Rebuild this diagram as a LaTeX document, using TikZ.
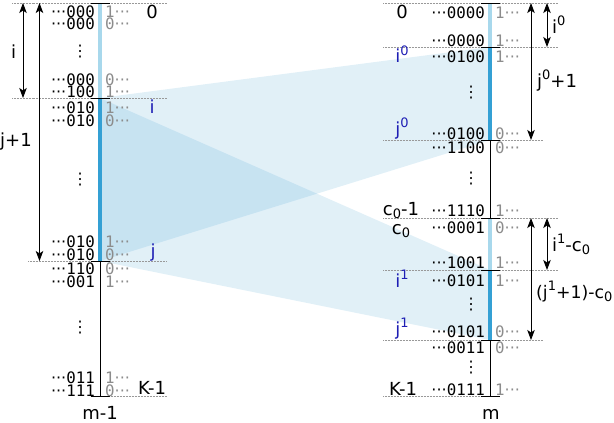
\documentclass[tikz,border=0pt]{standalone}
\usepackage{fontspec}
\setmainfont{DejaVu Sans}
\newfontfamily\monof{DejaVu Sans Mono}
\usetikzlibrary{arrows.meta}
\definecolor{barlight}{RGB}{168,216,236}
\definecolor{bardark}{RGB}{52,160,212}
\definecolor{shadeblue}{RGB}{51,153,204}
\definecolor{labblue}{RGB}{30,30,180}
\definecolor{dgray}{RGB}{140,140,140}
\newcommand\supx[1]{\raisebox{0.42em}{\fontsize{13}{13}\selectfont #1}}
\newcommand\subx[1]{\raisebox{-0.2em}{\fontsize{13}{13}\selectfont #1}}
\newcommand\dts{{\normalfont\fontsize{16}{16}\selectfont ···}}
\tikzset{
  bits/.style={anchor=base east, inner sep=0pt, font=\monof\fontsize{15.8}{15.8}\selectfont},
  gbit/.style={anchor=base west, inner sep=0pt, text=dgray, font=\monof\fontsize{15.8}{15.8}\selectfont},
  lab/.style={anchor=base, inner sep=0pt, font=\fontsize{18}{18}\selectfont},
  blab/.style={lab, text=labblue},
  vd/.style={inner sep=0pt, font=\fontsize{16}{16}\selectfont},
  shadefill/.style={fill=shadeblue, fill opacity=0.15},
  dotline/.style={draw=gray!80, line width=0.7pt, dash pattern=on 0.7pt off 0.8pt},
  lightbar/.style={draw=barlight, line width=4.5pt},
  darkbar/.style={draw=bardark, line width=4.5pt},
  blackbar/.style={draw=black, line width=0.9pt},
  tickline/.style={draw=black, line width=1pt},
  dimarrow/.style={draw=black, line width=0.9pt,
     {Stealth[length=10pt,width=7.5pt,inset=2.5pt]}-{Stealth[length=10pt,width=7.5pt,inset=2.5pt]}}
}
\newcommand\Lrow[5]{%
  \node[bits] (#1a) at (95,#2) {\dts#3};
  \node[gbit] (#1b) at (105,#2) {#4\dts};}
\newcommand\Rrow[5]{%
  \node[bits] (#1a) at (485,#2) {\dts#3};
  \node[gbit] (#1b) at (495,#2) {#4\dts};}
\begin{document}
\begin{tikzpicture}[x=1pt,y=-1pt]
\useasboundingbox (0,0) rectangle (614,423);
% shaded mappings
\fill[shadefill] (100,98) -- (490,47) -- (490,140) -- (100,261) -- cycle;
\fill[shadefill] (100,98) -- (490,270) -- (490,340) -- (100,261) -- cycle;
% dotted guide lines, left
\draw[dotline] (12,3) -- (167,3);
\draw[dotline] (12,98) -- (167,98);
\draw[dotline] (28,261) -- (167,261);
\draw[dotline] (100,396.5) -- (167,396.5);
% dotted guide lines, right
\draw[dotline] (383,3) -- (558,3);
\draw[dotline] (383,47) -- (558,47);
\draw[dotline] (383,140) -- (543,140);
\draw[dotline] (383,218) -- (558,218);
\draw[dotline] (383,270) -- (558,270);
\draw[dotline] (383,340) -- (543,340);
\draw[dotline] (383,396.5) -- (490,396.5);
% left column bars
\draw[lightbar] (100,3) -- (100,98);
\draw[darkbar] (100,98) -- (100,261);
\draw[blackbar] (100,261) -- (100,396.5);
\foreach \yy in {3,98,261,396.5} \draw[tickline] (90.5,\yy) -- (110,\yy);
% right column bars
\draw[lightbar] (490,3) -- (490,47);
\draw[darkbar] (490,47) -- (490,140);
\draw[blackbar] (490,140) -- (490,218);
\draw[lightbar] (490,218) -- (490,270);
\draw[darkbar] (490,270) -- (490,340);
\draw[blackbar] (490,340) -- (490,396.5);
\foreach \yy in {3,47,140,218,270,340,396.5} \draw[tickline] (480.5,\yy) -- (500,\yy);
% left rows
\Lrow{L1}{17.5}{000}{1}{}
\Lrow{L2}{29.5}{000}{0}{}
\Lrow{L3}{85}{000}{0}{}
\Lrow{L4}{97}{100}{1}{}
\Lrow{L5}{113}{010}{1}{}
\Lrow{L6}{126}{010}{0}{}
\Lrow{L7}{247}{010}{1}{}
\Lrow{L8}{260}{010}{0}{}
\Lrow{L9}{274}{110}{0}{}
\Lrow{L10}{287}{001}{1}{}
\Lrow{L11}{383}{011}{1}{}
\Lrow{L12}{396}{111}{0}{}
\node[vd] (Lv1) at (80,52) {⋮};
\node[vd] (Lv2) at (80,180) {⋮};
\node[vd] (Lv3) at (80,328) {⋮};
% right rows
\Rrow{R1}{18}{0000}{1}{}
\Rrow{R2}{46}{0000}{1}{}
\Rrow{R3}{62}{0100}{1}{}
\Rrow{R4}{139}{0100}{0}{}
\Rrow{R5}{153}{1100}{0}{}
\Rrow{R6}{216}{1110}{1}{}
\Rrow{R7}{233}{0001}{0}{}
\Rrow{R8}{268}{1001}{1}{}
\Rrow{R9}{286}{0101}{1}{}
\Rrow{R10}{337}{0101}{0}{}
\Rrow{R11}{353}{0011}{0}{}
\Rrow{R12}{395}{0111}{1}{}
\node[vd] (Rv1) at (471,93) {⋮};
\node[vd] (Rv2) at (471,179) {⋮};
\node[vd] (Rv3) at (471,305) {⋮};
\node[vd] (Rv4) at (471,368) {⋮};
% left labels
\node[lab] (l0) at (152,19) {0};
\node[blab] (li) at (152,113) {i};
\node[blab] (lj) at (153,257) {j};
\node[lab] (lK) at (152,394) {K-1};
\node[lab] (lm) at (100,419) {m-1};
% right labels
\node[lab] (r0) at (402,19) {0};
\node[blab] (ri0) at (402,63) {i\supx{0}};
\node[blab] (rj0) at (402,135) {j\supx{0}};
\node[lab] (rc1) at (401,215) {c\subx{0}-1};
\node[lab] (rc0) at (401,234) {c\subx{0}};
\node[blab] (ri1) at (402,287) {i\supx{1}};
\node[blab] (rj1) at (402,335) {j\supx{1}};
\node[lab] (rK) at (403,395) {K-1};
\node[lab] (rm) at (491,419) {m};
% left dimension arrows
\coordinate (aiT) at (23,3);
\coordinate (aiB) at (23,98);
\coordinate (ajT) at (39.5,3);
\coordinate (ajB) at (39.5,261);
\draw[dimarrow] (aiT) -- (aiB);
\draw[dimarrow] (ajT) -- (ajB);
\node[lab] (ti) at (13.5,58) {i};
\node[lab, anchor=base west] (tj) at (0,146) {j+1};
% right dimension arrows
\coordinate (bi0T) at (547,3);
\coordinate (bi0B) at (547,47);
\coordinate (bj0T) at (531,3);
\coordinate (bj0B) at (531,140);
\coordinate (bi1T) at (547,218);
\coordinate (bi1B) at (547,270);
\coordinate (bj1T) at (531,218);
\coordinate (bj1B) at (531,340);
\draw[dimarrow] (bi0T) -- (bi0B);
\draw[dimarrow] (bj0T) -- (bj0B);
\draw[dimarrow] (bi1T) -- (bi1B);
\draw[dimarrow] (bj1T) -- (bj1B);
\node[lab, anchor=base west] (ti0) at (552,33) {i\supx{0}};
\node[lab, anchor=base west] (tj0) at (537,87) {j\supx{0}+1};
\node[lab, anchor=base west] (ti1) at (552,251) {i\supx{1}-c\subx{0}};
\node[lab, anchor=base west, font=\fontsize{17.3}{17.3}\selectfont] (tj1) at (536,298) {(j\supx{1}+1)-c\subx{0}};
\end{tikzpicture}
\end{document}
